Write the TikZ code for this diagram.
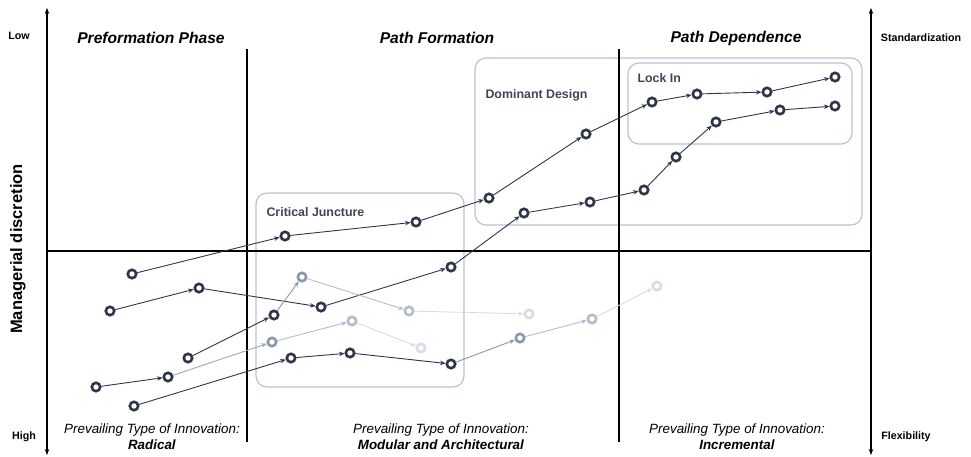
\documentclass[tikz,border=0pt]{standalone}
\usepackage{fontspec}
\setmainfont{Liberation Sans}
\usetikzlibrary{arrows.meta}
\definecolor{dk}{HTML}{2F3649}
\definecolor{md}{HTML}{8A97AD}
\definecolor{lt}{HTML}{B3BECD}
\definecolor{vl}{HTML}{D6DDE6}
\definecolor{bx}{HTML}{B9C3D3}
\definecolor{bt}{HTML}{3E4557}
\tikzset{
  pt/.style={circle,draw=#1,line width=2.6pt,fill=white,minimum size=8.4pt,inner sep=0pt},
  pt/.default=dk,
  lnk/.style={draw=#1,line width=0.9pt,-{Stealth[length=5.5pt,width=4.5pt]}},
  lnk/.default=dk,
  axis/.style={line width=1.1pt,black},
  phase/.style={font=\fontsize{15.6}{18}\selectfont\bfseries\itshape},
  side/.style={font=\fontsize{10.7}{12}\selectfont\bfseries},
  region/.style={draw=bx,line width=1.2pt,rounded corners=11pt},
  rlabel/.style={font=\fontsize{12.4}{14}\selectfont\bfseries,text=bt,anchor=west},
  prev/.style={font=\fontsize{13.4}{16}\selectfont,align=center}
}
\begin{document}
\begin{tikzpicture}[x=1pt,y=-1pt]
\useasboundingbox (0,0) rectangle (971,457);
% regions
\draw[region] (256,193) rectangle (464,387);
\draw[region] (475,58) rectangle (862,225);
\draw[region] (628,63) rectangle (852,144);
\node[rlabel] (cj) at (263,212) {Critical Juncture};
\node[rlabel] (dd) at (482,95) {Dominant Design};
\node[rlabel] (li) at (634,78) {Lock In};
% axes
\coordinate (la) at (47,8);
\coordinate (lb) at (47,455);
\coordinate (ra) at (871,8);
\coordinate (rb) at (871,455);
\draw[axis,{Stealth[length=6pt,width=4.5pt]}-{Stealth[length=6pt,width=4.5pt]}] (la) -- (lb);
\draw[axis,{Stealth[length=6pt,width=4.5pt]}-{Stealth[length=6pt,width=4.5pt]}] (ra) -- (rb);
\coordinate (hl) at (47,251);
\coordinate (hr) at (871,251);
\draw[axis] (hl) -- (hr);
\coordinate (v1t) at (247,49);
\coordinate (v1b) at (247,442);
\coordinate (v2t) at (619,49);
\coordinate (v2b) at (619,442);
\draw[axis] (v1t) -- (v1b);
\draw[axis] (v2t) -- (v2b);
% labels
\node[phase] (t1) at (151,38) {Preformation Phase};
\node[phase] (t2) at (437,38) {Path Formation};
\node[phase] (t3) at (736,38) {Path Dependence};
\node[side] (low) at (19,36) {Low};
\node[side] (high) at (24,437) {High};
\node[side] (std) at (921,38) {Standardization};
\node[side] (flex) at (906,437) {Flexibility};
\node[font=\fontsize{16.5}{18}\selectfont\bfseries,rotate=90] (md) at (18,249) {Managerial discretion};
\node[prev] (p1) at (152,437) {\textit{Prevailing Type of Innovation:}\\\textbf{\textit{Radical}}};
\node[prev] (p2) at (441,437) {\textit{Prevailing Type of Innovation:}\\\textbf{\textit{Modular and Architectural}}};
\node[prev] (p3) at (737,437) {\textit{Prevailing Type of Innovation:}\\\textbf{\textit{Incremental}}};
% chain A
\node[pt] (a1) at (132,274) {};
\node[pt] (a2) at (285,236) {};
\node[pt] (a3) at (416,222) {};
\node[pt] (a4) at (489,198) {};
\node[pt] (a5) at (586,134) {};
\node[pt] (a6) at (652,102) {};
\node[pt] (a7) at (697,94) {};
\node[pt] (a8) at (767,92) {};
\node[pt] (a9) at (835,77) {};
% chain B
\node[pt] (b1) at (110,311) {};
\node[pt] (b2) at (199,288) {};
\node[pt] (b3) at (321,307) {};
\node[pt] (b4) at (451,267) {};
\node[pt] (b5) at (524,213) {};
\node[pt] (b6) at (590,202) {};
\node[pt] (b7) at (644,190) {};
\node[pt] (b8) at (676,157) {};
\node[pt] (b9) at (716,122) {};
\node[pt] (b10) at (780,110) {};
\node[pt] (b11) at (835,106) {};
% chain C
\node[pt] (c1) at (188,358) {};
\node[pt] (c2) at (274,315) {};
\node[pt=md] (c3) at (302,277) {};
\node[pt=lt] (c4) at (409,311) {};
\node[pt=vl] (c5) at (529,314) {};
% chain D
\node[pt] (d1) at (96,387) {};
\node[pt] (d2) at (168,377) {};
\node[pt=md] (d3) at (272,342) {};
\node[pt=lt] (d4) at (352,321) {};
\node[pt=vl] (d5) at (421,348) {};
% chain E
\node[pt] (e1) at (134,406) {};
\node[pt] (e2) at (291,358) {};
\node[pt] (e3) at (350,353) {};
\node[pt] (e4) at (451,364) {};
\node[pt=md] (e5) at (520,338) {};
\node[pt=lt] (e6) at (592,319) {};
\node[pt=vl] (e7) at (657,286) {};
% links
\foreach \s/\t in {a1/a2,a2/a3,a3/a4,a4/a5,a5/a6,a6/a7,a7/a8,a8/a9,
  b1/b2,b2/b3,b3/b4,b4/b5,b5/b6,b6/b7,b7/b8,b8/b9,b9/b10,b10/b11,
  c1/c2,d1/d2,e1/e2,e2/e3,e3/e4}
  \draw[lnk] (\s) -- (\t);
\draw[lnk=md] (c2) -- (c3);
\draw[lnk=lt] (c3) -- (c4);
\draw[lnk=vl] (c4) -- (c5);
\draw[lnk=md!85] (d2) -- (d3);
\draw[lnk=lt] (d3) -- (d4);
\draw[lnk=vl] (d4) -- (d5);
\draw[lnk=md] (e4) -- (e5);
\draw[lnk=lt] (e5) -- (e6);
\draw[lnk=vl] (e6) -- (e7);
\end{tikzpicture}
\end{document}
